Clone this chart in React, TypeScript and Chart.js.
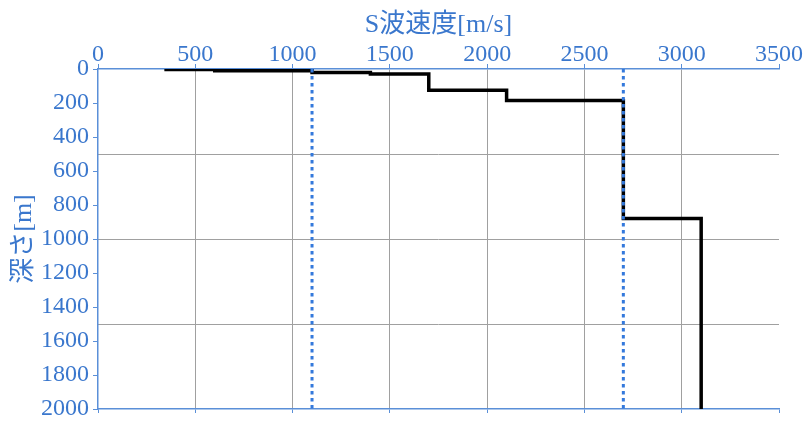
import { useEffect, useRef } from 'react';
import { Chart, registerables } from 'chart.js';

Chart.register(...registerables);

// layer velocities (m/s) and bottom depth of each layer (m)
const VELOCITY = [350, 600, 1100, 1400, 1700, 2100, 2700, 3100];
const LAYER_BOTTOM = [3, 10, 20, 30, 125, 185, 880, 2000];
// reference velocity lines (dotted)
const REF_VELOCITY = [1100, 2700];

const X_MAX = 3500;
const Y_MAX = 2000;

const BLUE = '#3a77cd';
const AXIS = '#5a8fd8';
const GRID = '#a0a0a0';
const FONT = '"Liberation Serif", "Noto Sans CJK JP", serif';

const buildProfile = () => {
  const pts: { x: number; y: number }[] = [{ x: VELOCITY[0], y: 0 }];
  VELOCITY.forEach((v, i) => {
    pts.push({ x: v, y: LAYER_BOTTOM[i] });
    if (i + 1 < VELOCITY.length) pts.push({ x: VELOCITY[i + 1], y: LAYER_BOTTOM[i] });
  });
  return pts;
};

const plain = (v: any) => String(v);

export default function App() {
  const canvasRef = useRef<HTMLCanvasElement>(null);

  useEffect(() => {
    document.body.style.margin = '0';
    if (!canvasRef.current) return;

    const refSets = REF_VELOCITY.map((v) => ({
      data: [
        { x: v, y: 0 },
        { x: v, y: Y_MAX },
      ],
      showLine: true,
      borderColor: '#3479dc',
      borderWidth: 3,
      borderDash: [3.5, 3.5],
      borderCapStyle: 'butt' as const,
      pointRadius: 0,
      order: 0,
    }));

    const chart = new Chart(canvasRef.current, {
      type: 'scatter',
      data: {
        datasets: [
          ...refSets,
          {
            data: buildProfile(),
            showLine: true,
            borderColor: '#000000',
            borderWidth: 3.5,
            pointRadius: 0,
            order: 1,
          },
        ],
      },
      options: {
        responsive: false,
        animation: false,
        layout: { padding: 0 },
        plugins: {
          legend: { display: false },
          tooltip: { enabled: false },
        },
        scales: {
          x: {
            type: 'linear',
            position: 'top',
            min: 0,
            max: X_MAX,
            ticks: {
              stepSize: 500,
              color: BLUE,
              font: { family: FONT, size: 24 },
              padding: -5,
              maxRotation: 0,
              callback: plain,
            },
            grid: {
              color: (ctx: any) =>
                ctx.tick && (ctx.tick.value === 0 || ctx.tick.value === X_MAX) ? 'rgba(0,0,0,0)' : GRID,
              tickColor: AXIS,
              tickLength: 5,
            },
            border: { color: AXIS, width: 1.5 },
            title: {
              display: true,
              text: 'S波速度[m/s]',
              color: BLUE,
              font: { family: FONT, size: 26 },
              padding: { top: 10, bottom: 0 },
            },
            afterFit: (s: any) => {
              s.height = 69;
            },
          },
          x2: {
            type: 'linear',
            position: 'bottom',
            min: 0,
            max: X_MAX,
            ticks: { stepSize: 500, display: false },
            grid: { drawOnChartArea: false, tickColor: AXIS, tickLength: 4 },
            border: { color: AXIS, width: 1.5 },
            afterFit: (s: any) => {
              s.height = 17;
            },
          },
          y: {
            type: 'linear',
            position: 'left',
            reverse: true,
            min: 0,
            max: Y_MAX,
            ticks: {
              stepSize: 200,
              color: BLUE,
              font: { family: FONT, size: 24, lineHeight: 1 },
              padding: 4,
              callback: plain,
            },
            grid: { drawOnChartArea: false, tickColor: AXIS, tickLength: 5 },
            border: { color: AXIS, width: 1.5 },
            title: {
              display: true,
              text: '深さ[m]',
              color: BLUE,
              font: { family: FONT, size: 26 },
              padding: { top: 9, bottom: 0 },
            },
            afterFit: (s: any) => {
              s.width = 98;
            },
          },
          y2: {
            type: 'linear',
            position: 'right',
            reverse: true,
            min: 0,
            max: Y_MAX,
            ticks: { stepSize: 500, display: false },
            grid: {
              color: (ctx: any) =>
                ctx.tick && (ctx.tick.value === 0 || ctx.tick.value === Y_MAX) ? 'rgba(0,0,0,0)' : GRID,
              drawTicks: false,
            },
            border: { display: false },
            afterFit: (s: any) => {
              s.width = 31;
            },
          },
        },
      },
    });

    return () => chart.destroy();
  }, []);

  return (
    <div style={{ width: 810, height: 426, background: '#fff' }}>
      <canvas ref={canvasRef} width={810} height={426} style={{ width: 810, height: 426, display: 'block' }} />
    </div>
  );
}
